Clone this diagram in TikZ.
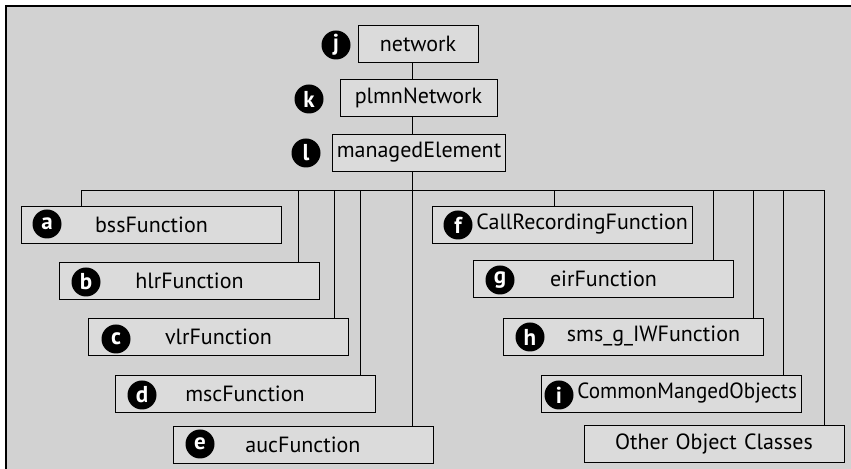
\documentclass[tikz,border=0pt]{standalone}
\usepackage{fontspec}
\setmainfont{PT Sans}
\usetikzlibrary{backgrounds}

\begin{document}
\begin{tikzpicture}[x=0.5pt, y=-0.5pt,
    box/.style={draw, fill=gray!28, minimum height=18.5pt, inner xsep=2pt, inner ysep=1pt,
                font=\fontsize{11}{13}\selectfont},
    funcbox/.style={box, text width=126pt, align=center},
    rightbox/.style={box, text width=126pt, align=right},
    tag/.style={circle, fill=black, text=white, inner sep=0pt, minimum size=14.5pt,
                font=\bfseries\fontsize{11.5}{13}\selectfont}]
            \useasboundingbox (0,0) rectangle (851,469);

            % top of the tree
            \node[box, minimum width=60pt] (net) at (418,43.5) {network};
            \node[box, minimum width=78.5pt] (plmn) at (418.5,97.5) {plmnNetwork};
            \node[box, minimum width=86pt] (mgd) at (419,152.5) {managedElement};
            \node[tag] (tj) at (336,45) {j};
            \node[tag] (tk) at (309,99) {k};
            \node[tag] (tl) at (306,153) {l};

            % left column
            \node[funcbox] (bss) at (151.5,224.5) {bssFunction};
            \node[funcbox] (hlr) at (189.5,280.5) {hlrFunction};
            \node[funcbox] (vlr) at (218.5,337) {vlrFunction};
            \node[funcbox] (msc) at (245,394) {mscFunction};
            \node[funcbox] (auc) at (303,444.5) {aucFunction};
            \node[tag] (ta) at (47,224) {a};
            \node[tag] (tb) at (86,282) {b};
            \node[tag] (tc) at (116,339) {c};
            \node[tag] (td) at (142,395) {d};
            \node[tag] (te) at (200,444) {e};

            % right column
            \node[rightbox] (crf) at (562,224.5) {CallRecordingFunction};
            \node[funcbox] (eir) at (603.5,279) {eirFunction};
            \node[funcbox] (sms) at (633.5,336.5) {\hspace*{20pt}sms\_g\_IWFunction};
            \node[rightbox] (cmo) at (671,393.5) {\scalebox{0.96}[1]{CommonMangedObjects}};
            \node[funcbox] (other) at (714,444) {Other Object Classes};
            \node[tag] (tf) at (458,225) {f};
            \node[tag] (tg) at (500,280) {g};
            \node[tag] (th) at (530,337) {h};
            \node[tag] (ti) at (559,395) {i};

            \begin{scope}[on background layer]
            \fill[gray!35] (6,6) rectangle (851,469);
            \draw[line width=0.8pt] (6,469) -- (6,6) -- (851,6);
            \coordinate (bus) at (412,190);
            \draw (bus |- net.south) -- (bus |- auc.north);
            \draw ([xshift=30pt]bss.north west) |- (bus);
            \draw ([xshift=-11pt]hlr.north east) |- (bus);
            \draw ([xshift=-7.5pt]vlr.north east) |- (bus);
            \draw ([xshift=-7.5pt]msc.north east) |- (bus);
            \draw ([xshift=61.5pt]crf.north west) |- (bus);
            \draw ([xshift=-10.5pt]eir.north east) |- (bus);
            \draw ([xshift=-5.5pt]sms.north east) |- (bus);
            \draw ([xshift=-9pt]cmo.north east) |- (bus);
            \draw ([xshift=-10pt]other.north east) |- (bus);
            \end{scope}
        \end{tikzpicture}
\end{document}
